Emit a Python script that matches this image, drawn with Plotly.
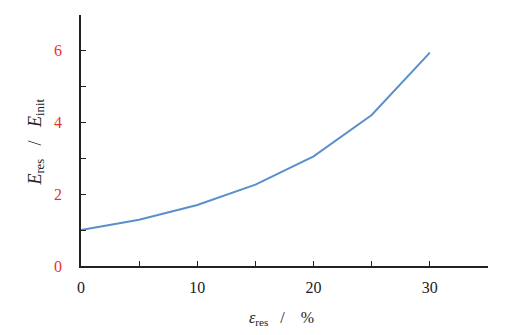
import plotly.graph_objects as go

strain = [0, 5, 10, 15, 20, 25, 30]
ratio = [1.00, 1.29, 1.70, 2.27, 3.06, 4.21, 5.95]

y_major = [0, 2, 4, 6]
x_major = [0, 10, 20, 30]

FONT = "Liberation Serif"

fig = go.Figure()
fig.add_trace(go.Scatter(x=strain, y=ratio, mode="lines",
                         line=dict(color="#5b8fcb", width=2), showlegend=False))

fig.update_layout(
    width=516, height=335,
    margin=dict(l=80.5, r=27.7, t=15, b=69),
    paper_bgcolor="white", plot_bgcolor="white",
    font=dict(family=FONT, size=16, color="#222222"),
    xaxis=dict(range=[0, 35], tickmode="array", tickvals=x_major,
               ticks="inside", ticklen=5, tickcolor="#222", tickwidth=1,
               minor=dict(tickmode="array", tickvals=[5, 15, 25, 35], ticks="inside",
                          ticklen=5, tickcolor="#222", tickwidth=1, showgrid=False),
               showline=True, linecolor="#222", linewidth=1.5, showgrid=False, zeroline=False,
               tickfont=dict(family=FONT, size=16, color="#222"), ticklabelstandoff=6),
    yaxis=dict(range=[0, 7], tickmode="array", tickvals=y_major,
               ticks="inside", ticklen=5, tickcolor="#222", tickwidth=1,
               minor=dict(tickmode="array", tickvals=[1, 3, 5, 7], ticks="inside",
                          ticklen=5, tickcolor="#222", tickwidth=1, showgrid=False),
               showline=True, linecolor="#222", linewidth=1.5, showgrid=False, zeroline=False,
               tickfont=dict(family=FONT, size=16, color="#e8332a"), ticklabelstandoff=14),
)

plot_w = 516 - 80.5 - 27.7
plot_h = 335 - 15 - 69
fig.add_annotation(text="<i>ε</i><sub>res</sub>   /    %",
                   x=(281 - 80.5) / plot_w, y=(266 - 318) / plot_h,
                   xref="paper", yref="paper", xanchor="center", yanchor="middle",
                   showarrow=False, font=dict(family=FONT, size=16, color="#222"))
fig.add_annotation(text="<i>E</i><sub>res</sub>   /   <i>E</i><sub>init</sub>",
                   x=(35 - 80.5) / plot_w, y=(266 - 142) / plot_h,
                   xref="paper", yref="paper", xanchor="center", yanchor="middle",
                   textangle=-90, showarrow=False,
                   font=dict(family=FONT, size=18, color="#222"))

fig.write_html("out.html")
